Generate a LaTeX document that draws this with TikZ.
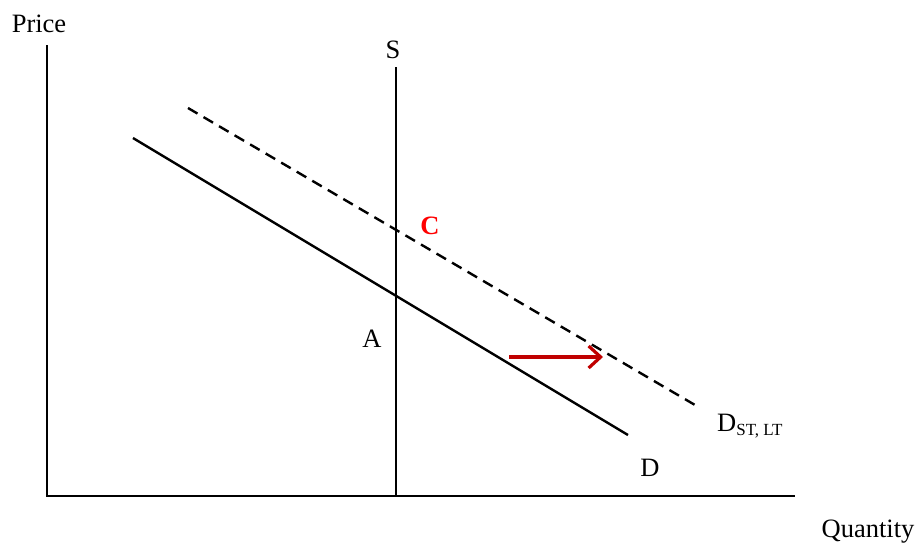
\documentclass[tikz,border=0pt]{standalone}
\usepackage{fontspec}
\setmainfont{Liberation Serif}
\usetikzlibrary{arrows.meta}
\definecolor{arrowred}{RGB}{192,0,0}
\definecolor{labelred}{RGB}{255,0,0}
\begin{document}
\begin{tikzpicture}[x=1pt,y=-1pt,
  lbl/.style={inner sep=0pt,font=\fontsize{26.5}{30}\selectfont},
  curve/.style={line width=2.4pt},
  axis/.style={line width=2.6pt},
  shiftarrow/.style={line width=3.2pt,draw=arrowred,-{Straight Barb[length=12pt,width=22pt,line width=3.2pt]}}]
\useasboundingbox (0,0) rectangle (922,547);
% axes
\coordinate (ytop) at (47,45);
\coordinate (orig) at (47,496);
\coordinate (xend) at (795,496);
\draw[axis] (ytop) -- (orig) -- (xend);
% supply
\coordinate (stop) at (396,67);
\coordinate (sbot) at (396,496);
\draw[curve] (stop) -- (sbot);
% demand
\coordinate (d1) at (133,138);
\coordinate (d2) at (628,435);
\draw[curve] (d1) -- (d2);
% shifted demand
\coordinate (e1) at (188,108);
\coordinate (e2) at (695,405);
\draw[curve,dash pattern=on 11pt off 7pt] (e1) -- (e2);
% arrow
\coordinate (a1) at (509,357);
\coordinate (a2) at (603,357);
\draw[shiftarrow] (a1) -- (a2);
% labels
\node[lbl] (price) at (39,24) {Price};
\node[lbl] (qty) at (868,532) {Quantity};
\node[lbl] (S) at (393,50) {S};
\node[lbl] (A) at (372,339) {A};
\node[lbl,text=labelred,font=\fontsize{26.5}{30}\selectfont\bfseries] (C) at (430,226) {C};
\node[lbl] (D) at (650,468) {D};
\node[lbl,anchor=west] (DST) at (717,426) {D\textsubscript{\fontsize{17}{20}\selectfont ST, LT}};
\end{tikzpicture}
\end{document}
